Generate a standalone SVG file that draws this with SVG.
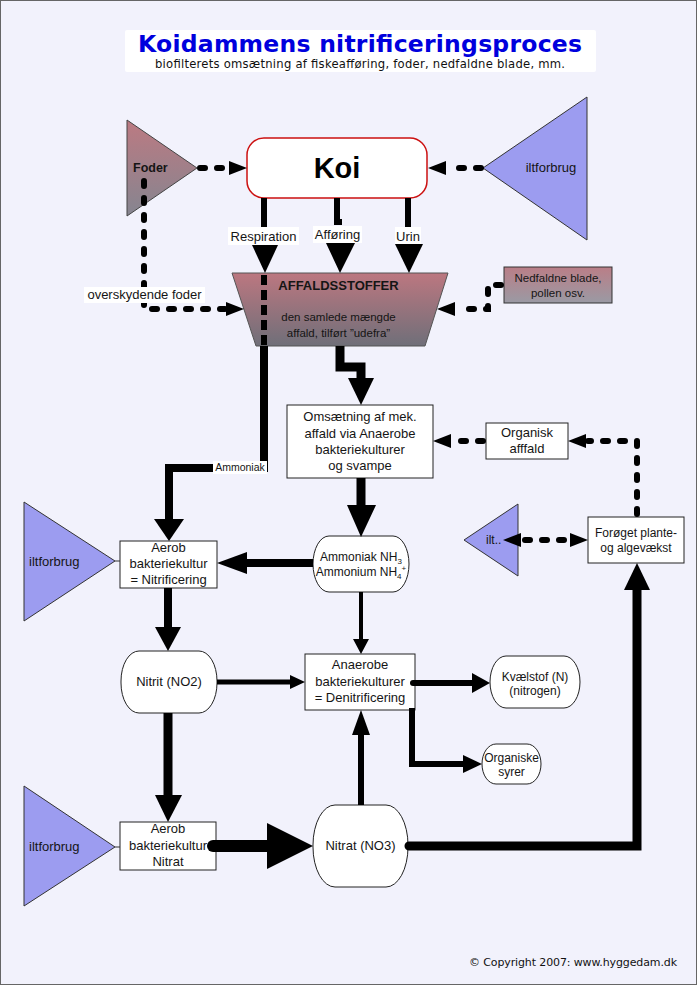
<svg xmlns="http://www.w3.org/2000/svg" width="697" height="985" viewBox="0 0 697 985">
<defs>
<linearGradient id="gRose" x1="0" y1="0" x2="0" y2="1">
<stop offset="0" stop-color="#BC7780"/>
<stop offset="1" stop-color="#6F6F79"/>
</linearGradient>
<linearGradient id="gFoder" x1="0" y1="0" x2="0" y2="1">
<stop offset="0" stop-color="#BC7A82"/>
<stop offset="1" stop-color="#858590"/>
</linearGradient>
<linearGradient id="gBlade" x1="0" y1="0" x2="0" y2="1">
<stop offset="0" stop-color="#BA7E87"/>
<stop offset="1" stop-color="#9A9AA4"/>
</linearGradient>
<style>
.t{font-family:"Liberation Sans",Arial,sans-serif;fill:#151515;font-size:13px;text-anchor:middle}
.s12{font-size:12px}
.b{font-weight:bold}
.box{fill:#fff;stroke:#222;stroke-width:1}
.tri{fill:#9C9CF0;stroke:#333;stroke-width:1}
.ln{fill:none;stroke:#000;stroke-linejoin:miter}
.dash{fill:none;stroke:#000;stroke-width:6;stroke-dasharray:5 12;stroke-linecap:round}
.ah{fill:#000}
.lbl{fill:#fff}
</style>
</defs>
<rect x="0.5" y="0.5" width="696" height="984" fill="#F2F2FC" stroke="#666" stroke-width="1"/>

<g id="title">
<rect x="125" y="30" width="471" height="42" rx="2" fill="#fff"/>
<text x="360" y="52" font-family="'DejaVu Sans',Verdana,sans-serif" font-weight="bold" font-size="23.5" fill="#0000DD" text-anchor="middle" textLength="444">Koidammens nitrificeringsproces</text>
<text x="360" y="68" font-family="'DejaVu Sans',Verdana,sans-serif" font-size="11.6" fill="#111" text-anchor="middle" textLength="410">biofilterets omsætning af fiskeafføring, foder, nedfaldne blade, mm.</text>
</g>

<g id="foder">
<polygon points="127,120 127,216 197,168" fill="url(#gFoder)" stroke="#444" stroke-width="1"/>
<text class="t b" x="133" y="172" style="text-anchor:start;font-size:12.5px">Foder</text>
</g>

<g id="koi">
<rect x="247" y="138" width="180" height="60" rx="17" fill="#fff" stroke="#CC1111" stroke-width="1.5"/>
<text class="t b" x="337" y="178" style="font-size:29px;fill:#000">Koi</text>
</g>

<g id="ilt-top">
<polygon class="tri" points="587,97 587,240 483,168"/>
<text class="t" x="551" y="172">iltforbrug</text>
</g>

<g id="affald">
<polygon points="232,273 448,273 425,346 256,346" fill="url(#gRose)" stroke="#555" stroke-width="1"/>
<text class="t b" x="338.5" y="290">AFFALDSSTOFFER</text>
<text class="t" x="338.5" y="321" style="font-size:11.5px">den samlede mængde</text>
<text class="t" x="338.5" y="337" style="font-size:11.5px">affald, tilført ”udefra”</text>
</g>

<g id="nedfaldne">
<rect x="504" y="267" width="108" height="36" fill="url(#gBlade)" stroke="#333" stroke-width="1"/>
<text class="t" x="558" y="282" style="font-size:11.5px">Nedfaldne blade,</text>
<text class="t" x="558" y="297" style="font-size:11.5px">pollen osv.</text>
</g>

<g id="omsaetning">
<rect class="box" x="287" y="405" width="146" height="73"/>
<text class="t" x="360" y="421">Omsætning af mek.</text>
<text class="t" x="360" y="438">affald via Anaerobe</text>
<text class="t" x="360" y="454">bakteriekulturer</text>
<text class="t" x="360" y="470">og svampe</text>
</g>

<g id="organisk">
<rect class="box" x="486" y="423" width="82" height="36"/>
<text class="t" x="527" y="437">Organisk</text>
<text class="t" x="527" y="453">afffald</text>
</g>

<g id="foroget">
<rect class="box" x="588" y="517" width="96" height="46"/>
<text class="t s12" x="636" y="537">Forøget plante-</text>
<text class="t s12" x="636" y="552">og algevækst</text>
</g>

<g id="ilt-small">
<polygon class="tri" points="464,540 518,504 518,576"/>
<text class="t s12" x="486" y="544" style="text-anchor:start">ilt..</text>
</g>

<g id="ilt-1">
<polygon class="tri" points="24,502 24,621 115,561"/>
<text class="t" x="29" y="566" style="text-anchor:start">iltforbrug</text>
</g>

<g id="aerob1">
<rect class="box" x="120" y="541" width="97" height="47"/>
<text class="t" x="168.5" y="552">Aerob</text>
<text class="t" x="168.5" y="568">bakteriekultur</text>
<text class="t" x="168.5" y="584">= Nitrificering</text>
</g>

<g id="ammoniak">
<rect class="box" x="313" y="536" width="96" height="56" rx="16" ry="28"/>
<text class="t s12" x="361" y="561">Ammoniak NH<tspan font-size="8" dy="3">3</tspan></text>
<text class="t s12" x="361" y="576">Ammonium NH<tspan font-size="8" dy="3">4</tspan><tspan font-size="8" dy="-8">+</tspan></text>
</g>

<g id="nitrit">
<rect class="box" x="121" y="651" width="96" height="62" rx="18" ry="30"/>
<text class="t" x="169" y="686">Nitrit (NO2)</text>
</g>

<g id="anaerobe">
<rect class="box" x="305" y="654" width="110" height="56"/>
<text class="t" x="360" y="669">Anaerobe</text>
<text class="t" x="360" y="686">bakteriekulturer</text>
<text class="t" x="360" y="702">= Denitrificering</text>
</g>

<g id="kvaelstof">
<rect class="box" x="490" y="656" width="90" height="52" rx="16" ry="26"/>
<text class="t s12" x="535" y="681">Kvælstof (N)</text>
<text class="t s12" x="535" y="695">(nitrogen)</text>
</g>

<g id="organiske">
<rect class="box" x="482" y="744" width="59" height="40" rx="14" ry="20"/>
<text class="t s12" x="511.5" y="762">Organiske</text>
<text class="t s12" x="511.5" y="776">syrer</text>
</g>

<g id="ilt-2">
<polygon class="tri" points="24,786 24,906 115,847"/>
<text class="t" x="29" y="851" style="text-anchor:start">iltforbrug</text>
</g>

<g id="aerob2">
<rect class="box" x="120" y="822" width="96" height="48"/>
<text class="t" x="168" y="833">Aerob</text>
<text class="t" x="168" y="850">bakteriekultur</text>
<text class="t" x="168" y="866">Nitrat</text>
</g>

<g id="nitrat">
<rect class="box" x="313" y="805" width="95" height="82" rx="22" ry="40"/>
<text class="t" x="360.5" y="850">Nitrat (NO3)</text>
</g>

<g id="connectors">
<line class="dash" x1="200" y1="168" x2="226" y2="168"/>
<polygon class="ah" points="229,161 247,168 229,175"/>
<line class="dash" x1="481" y1="168" x2="449" y2="168"/>
<polygon class="ah" points="446,161 428,168 446,175"/>
<line class="ln" x1="264" y1="198" x2="264" y2="246" stroke-width="6"/>
<polygon class="ah" points="252,245 278,245 265,273"/>
<path class="ln" d="M337,198 V222 H342" stroke-width="6"/>
<polygon class="ah" points="326,243 355,243 340,273"/>
<line class="ln" x1="408" y1="198" x2="408" y2="245" stroke-width="6"/>
<polygon class="ah" points="395,244 423,244 409,273"/>
<path class="dash" d="M144,181 V309 H225"/>
<polygon class="ah" points="226,302 244,309 226,316"/>
<path class="dash" d="M501,285 H488 V309 H457"/>
<polygon class="ah" points="455,302 437,309 455,316"/>
<line x1="264" y1="275" x2="264" y2="346" stroke="#000" stroke-width="6" stroke-dasharray="10 5"/>
<path class="ln" d="M264,346 V468 H169 V522" stroke-width="8"/>
<polygon class="ah" points="154,519 184,519 169,541"/>
<path class="ln" d="M340,346 V367 H361 V380" stroke-width="9"/>
<polygon class="ah" points="348,378 374,378 361,405"/>
<line class="dash" x1="483" y1="441" x2="453" y2="441"/>
<polygon class="ah" points="451,434 433,441 451,448"/>
<path class="dash" d="M637,514 V441 H588"/>
<polygon class="ah" points="586,434 568,441 586,448"/>
<line class="dash" x1="525" y1="540" x2="566" y2="540"/>
<polygon class="ah" points="521,533 503,540 521,547"/>
<polygon class="ah" points="570,533 588,540 570,547"/>
<line x1="115" y1="561" x2="120" y2="561" stroke="#333" stroke-width="1"/>
<line x1="115" y1="847" x2="120" y2="847" stroke="#333" stroke-width="1"/>
<line class="ln" x1="361" y1="478" x2="361" y2="507" stroke-width="9"/>
<polygon class="ah" points="347,505 376,505 361,537"/>
<line class="ln" x1="313" y1="563" x2="245" y2="563" stroke-width="8"/>
<polygon class="ah" points="247,552 247,574 217,563"/>
<line class="ln" x1="168" y1="588" x2="168" y2="629" stroke-width="8"/>
<polygon class="ah" points="155,627 181,627 168,651"/>
<line class="ln" x1="217" y1="682" x2="291" y2="682" stroke-width="5"/>
<polygon class="ah" points="290,675 290,689 305,682"/>
<line class="ln" x1="361" y1="592" x2="361" y2="641" stroke-width="4"/>
<polygon class="ah" points="353,639 369,639 361,654"/>
<line class="ln" x1="413" y1="683" x2="473" y2="683" stroke-width="6" stroke-linecap="round"/>
<polygon class="ah" points="472,673 472,693 490,683"/>
<path class="ln" d="M412,708 V764 H465" stroke-width="6"/>
<polygon class="ah" points="463,755 463,773 482,764"/>
<line class="ln" x1="168" y1="713" x2="168" y2="797" stroke-width="9"/>
<polygon class="ah" points="155,795 182,795 168,822"/>
<line class="ln" x1="213" y1="846" x2="269" y2="846" stroke-width="12" stroke-linecap="round"/>
<polygon class="ah" points="267,823 267,869 313,846"/>
<line class="ln" x1="361" y1="805" x2="361" y2="733" stroke-width="6"/>
<polygon class="ah" points="352,735 370,735 361,710"/>
<path class="ln" d="M409,846 H637 V588" stroke-width="9" stroke-linecap="round"/>
<polygon class="ah" points="624,590 650,590 637,563"/>
</g>

<g id="labels">
<rect class="lbl" x="228" y="227" width="71" height="18"/>
<text class="t" x="263.5" y="241">Respiration</text>
<rect class="lbl" x="313" y="226" width="49" height="17"/>
<text class="t" x="337.5" y="239">Afføring</text>
<rect class="lbl" x="395" y="227" width="26" height="17"/>
<text class="t" x="408" y="241">Urin</text>
<rect class="lbl" x="84" y="287" width="121" height="16"/>
<text class="t" x="144.5" y="299">overskydende foder</text>
<rect class="lbl" x="213" y="461" width="54" height="13"/>
<text class="t" x="240" y="471" style="font-size:10.5px">Ammoniak</text>
</g>

<g id="copyright">
<text x="469" y="966" font-family="'DejaVu Sans',Verdana,sans-serif" font-size="11" fill="#111" textLength="208">© Copyright 2007: www.hyggedam.dk</text>
</g>
</svg>
